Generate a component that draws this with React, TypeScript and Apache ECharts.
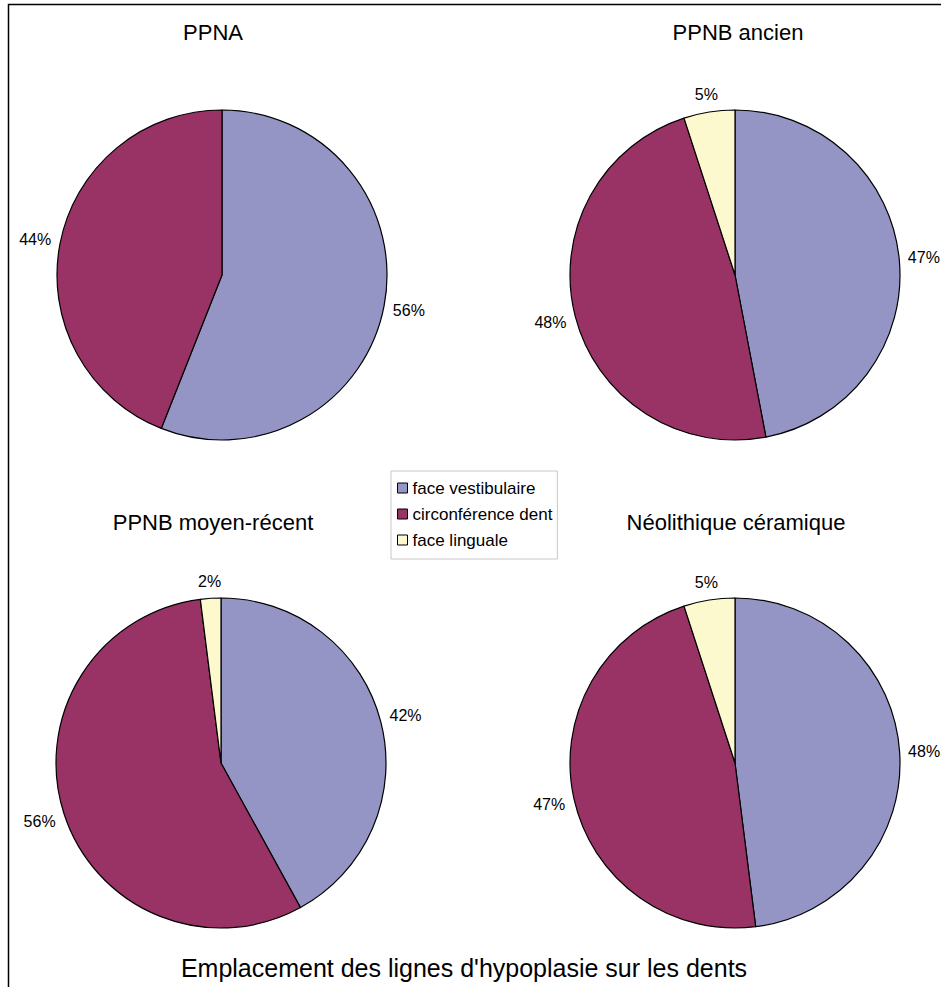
import React, { useEffect, useRef } from "react";
import * as echarts from "echarts";

const categories = ["face vestibulaire", "circonférence dent", "face linguale"];
const periods = ["PPNA", "PPNB ancien", "PPNB moyen-récent", "Néolithique céramique"];
const vestibulaire = [56, 47, 42, 48];
const circonference = [44, 48, 56, 47];
const linguale = [0, 5, 2, 5];
const mainTitle = "Emplacement des lignes d'hypoplasie sur les dents";

const colors = ["#9595C5", "#993366", "#FDF9CF"];
const FONT = "Arial, 'Liberation Sans', Helvetica, sans-serif";

// layout (positions in pixels)
const centers = [
  [222, 275],
  [735, 275],
  [221, 763],
  [735, 763],
];
const titlePos = [
  [213, 32],
  [738, 32],
  [213, 522],
  [736, 522],
];
const RADIUS = 165;

export default function App() {
  const ref = useRef<HTMLDivElement>(null);
  useEffect(() => {
    if (!ref.current) return;
    const chart = echarts.init(ref.current, null, { renderer: "svg" });
    const seriesValues = [vestibulaire, circonference, linguale];
    const series = periods.map((p, i) => ({
      type: "pie",
      name: p,
      center: centers[i],
      radius: [0, RADIUS],
      startAngle: 90,
      clockwise: true,
      avoidLabelOverlap: false,
      silent: true,
      itemStyle: { borderColor: "#000", borderWidth: 1.2 },
      label: {
        show: true,
        position: "outside",
        formatter: "{c}%",
        fontSize: 16,
        fontFamily: FONT,
        color: "#000",
      },
      labelLine: {
        show: true,
        length: 10,
        length2: 0,
        lineStyle: { opacity: 0, width: 0 },
      },
      labelLayout: (params: any) => {
        const pts = params.labelLinePoints;
        if (!pts || pts.length < 2) return {};
        const vx = pts[1][0] - pts[0][0];
        const vy = pts[1][1] - pts[0][1];
        const len = Math.sqrt(vx * vx + vy * vy) || 1;
        const ux = vx / len;
        const uy = vy / len;
        const w = params.labelRect ? params.labelRect.width : 30;
        const h = 16;
        const d = 8 + Math.abs(ux) * w / 2 + Math.abs(uy) * h / 2;
        return {
          x: pts[0][0] + ux * d,
          y: pts[0][1] + uy * d,
          align: "center",
          verticalAlign: "middle",
        };
      },
      emphasis: { disabled: true },
      data: categories
        .map((c, k) => ({
          name: c,
          value: seriesValues[k][i],
          itemStyle: { color: colors[k] },
        }))
        .filter((d) => d.value > 0),
    }));

    const titleStyle = {
      fontSize: 22,
      fontWeight: "normal",
      fontFamily: FONT,
      color: "#000",
    };
    const titles: any[] = periods.map((p, i) => ({
      text: p,
      left: titlePos[i][0],
      top: titlePos[i][1],
      padding: 0,
      textAlign: "center",
      textVerticalAlign: "middle",
      textStyle: titleStyle,
    }));
    titles.push({
      text: mainTitle,
      left: 464,
      top: 968,
      padding: 0,
      textAlign: "center",
      textVerticalAlign: "middle",
      textStyle: { ...titleStyle, fontSize: 25 },
    });

    chart.setOption({
      animation: false,
      backgroundColor: "#fff",
      title: titles,
      legend: {
        orient: "vertical",
        left: 391,
        top: 471,
        padding: [8, 5, 10, 6],
        itemGap: 8,
        itemWidth: 10,
        itemHeight: 10,
        icon: "rect",
        borderColor: "#c8c8c8",
        borderWidth: 1,
        selectedMode: false,
        itemStyle: { borderColor: "#000", borderWidth: 1 },
        textStyle: {
          fontSize: 17,
          fontFamily: FONT,
          color: "#000",
          lineHeight: 18,
        },
        data: categories,
      },
      graphic: [
        {
          type: "rect",
          shape: { x: 8.5, y: 4.5, width: 1000, height: 1100 },
          style: { fill: "none", stroke: "#000", lineWidth: 1.5 },
          silent: true,
        },
      ],
      series,
    });
    return () => chart.dispose();
  }, []);
  return (
    <div
      ref={ref}
      style={{ position: "fixed", left: 0, top: 0, width: 941, height: 987 }}
    />
  );
}
